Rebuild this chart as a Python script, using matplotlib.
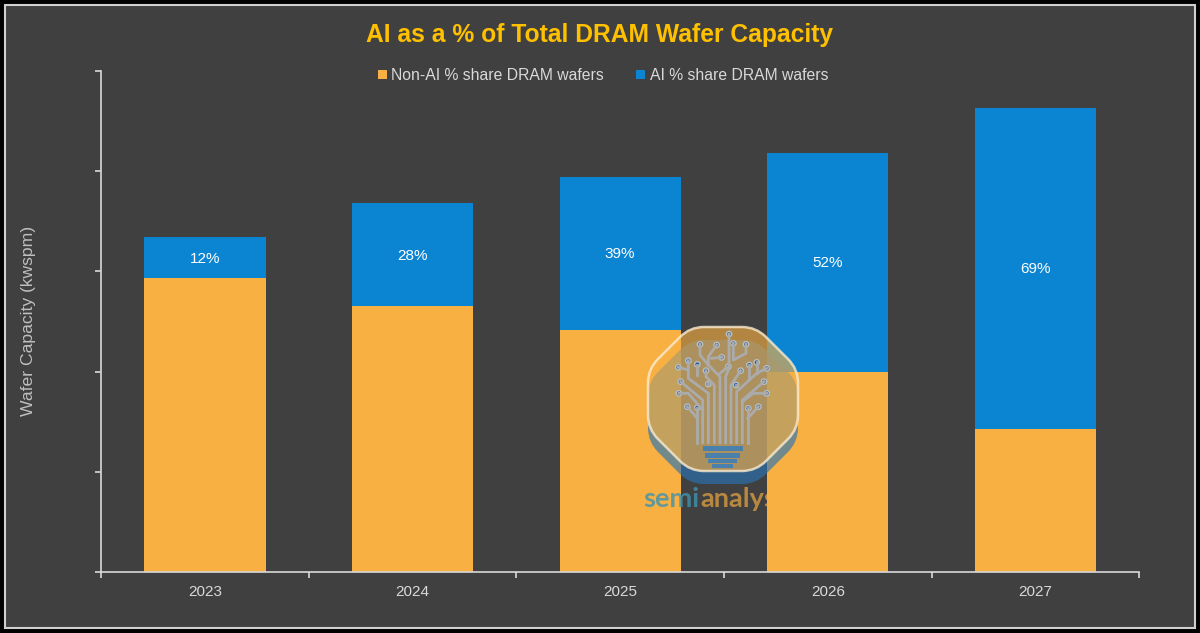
import numpy as np
import matplotlib
matplotlib.use("Agg")
import matplotlib.pyplot as plt
from matplotlib.path import Path
from matplotlib.patches import PathPatch, Rectangle, Circle

plt.rcParams['font.family'] = ['Liberation Sans', 'DejaVu Sans']

# Data (axis itself has no labels)
years = ['2023', '2024', '2025', '2026', '2027']
non_ai = [1465, 1325, 1210, 1000, 715]
ai = [205, 515, 760, 1090, 1600]
ai_labels = ['12%', '28%', '39%', '52%', '69%']

BG = '#404040'
ORANGE = '#F9B043'
BLUE = '#0B84D1'
LIGHT = '#D9D9D9'

fig = plt.figure(figsize=(12, 6.33), dpi=100, facecolor='black')

# outer frame, in pixels
back = fig.add_axes([0, 0, 1, 1], zorder=0)
back.set_xlim(0, 1200)
back.set_ylim(633, 0)
back.axis('off')
back.add_patch(Rectangle((5, 5), 1190, 623, facecolor=BG, edgecolor='#D0D0D0', lw=1.5))

# Main chart
ax = fig.add_axes([101.2 / 1200, 1 - 572 / 633, 1038 / 1200, 501 / 633], zorder=1)
ax.patch.set_alpha(0)
x = np.arange(len(years))
ax.bar(x, non_ai, width=0.583, color=ORANGE, label='Non-AI % share DRAM wafers')
ax.bar(x, ai, width=0.583, bottom=non_ai, color=BLUE, label='AI % share DRAM wafers')
for i in range(len(years)):
    ax.annotate(ai_labels[i], (x[i], non_ai[i] + ai[i] / 2), xytext=(0, -1), textcoords='offset pixels',
                color='white', fontsize=11, ha='center', va='center')

ax.set_xlim(-0.5, 4.5)
ax.set_ylim(0, 2500)
ax.set_xticks(np.arange(-0.5, 5))
ax.set_xticklabels([])
ax.set_xticks(x, minor=True)
ax.set_xticklabels(years, minor=True, color=LIGHT, fontsize=11)
ax.tick_params(axis='x', which='minor', length=0, pad=9.5)
ax.tick_params(axis='x', which='major', length=4, width=1.2, color=LIGHT)
ax.set_yticks(np.arange(0, 2501, 500))
ax.set_yticklabels([])
ax.tick_params(axis='y', length=4, width=1.2, color=LIGHT)
for s in ['top', 'right']:
    ax.spines[s].set_visible(False)
for s in ['left', 'bottom']:
    ax.spines[s].set_color(LIGHT)
    ax.spines[s].set_linewidth(1.2)

ax.legend(loc='upper center', bbox_to_anchor=(0.4835, 1.018), ncol=2, frameon=False, fontsize=11.3,
          labelcolor=LIGHT, handlelength=0.55, handleheight=0.55, handletextpad=0.3,
          columnspacing=2.05, borderaxespad=0)

fig.text(600 / 1200, 1 - 35 / 633, 'AI as a % of Total DRAM Wafer Capacity', color='#FFC000',
         fontsize=17.7, fontweight='bold', ha='center', va='center')
fig.text(29 / 1200, 1 - 321 / 633, 'Wafer Capacity (kwspm)', color='#BFBFBF', fontsize=12.6,
         rotation=90, ha='center', va='center')

# Watermark drawn on top, coords are pixels of the image
top = fig.add_axes([0, 0, 1, 1], zorder=2)
top.set_xlim(0, 1200)
top.set_ylim(633, 0)
top.axis('off')


def rounded(points, r):
    verts, codes = [], []
    n = len(points)
    for i in range(n):
        p = np.array(points[i], float)
        a = np.array(points[i - 1], float)
        b = np.array(points[(i + 1) % n], float)
        p1 = p + (a - p) / np.linalg.norm(a - p) * r
        p2 = p + (b - p) / np.linalg.norm(b - p) * r
        verts += [p1, p, p2]
        codes += [Path.MOVETO if i == 0 else Path.LINETO, Path.CURVE3, Path.CURVE3]
    verts.append(verts[0])
    codes.append(Path.CLOSEPOLY)
    return Path(verts, codes)


octagon = [(690, 327), (756, 327), (798, 369), (798, 429), (756, 471), (690, 471), (648, 429), (648, 369)]
shadow = [(p[0], p[1] + 13) for p in octagon]
top.add_patch(PathPatch(rounded(shadow, 14), facecolor='#2A74B4', edgecolor='none', alpha=0.65))
top.add_patch(PathPatch(rounded(octagon, 14), facecolor='#F9B043', edgecolor='none', alpha=0.62))
top.add_patch(PathPatch(rounded(octagon, 14), facecolor='none', edgecolor='#FBEBD0', lw=1.8, alpha=0.8))

# tree traces, written in 3x crop coords then scaled down
traces = [
    [(300, 398), (300, 200), (290, 190), (265, 165), (240, 135), (240, 103)],
    [(283, 398), (283, 225), (258, 200), (258, 182)],
    [(265, 398), (265, 250), (205, 205), (205, 152)],
    [(248, 398), (248, 270), (182, 215)],
    [(232, 398), (232, 295)],
    [(232, 325), (202, 290)],
    [(248, 300), (205, 250), (177, 250)],
    [(317, 398), (317, 200), (327, 175), (327, 72)],
    [(333, 398), (333, 225), (362, 182)],
    [(350, 398), (350, 245), (410, 190), (440, 175)],
    [(367, 398), (367, 270), (432, 215)],
    [(383, 398), (383, 295)],
    [(383, 325), (415, 290)],
    [(367, 275), (400, 250), (440, 250)],
    [(265, 165), (265, 140), (290, 105)],
    [(275, 145), (305, 142)],
    [(300, 190), (325, 170)],
    [(340, 100), (340, 150), (378, 130), (378, 103)],
    [(388, 165), (388, 205)],
    [(410, 157), (410, 190)],
    [(232, 165), (232, 195)],
    [(205, 180), (175, 172)],
    [(350, 225), (348, 225)],
    [(265, 220), (265, 222)],
]
nodes = [(327, 72), (240, 103), (290, 105), (340, 100), (378, 103), (305, 142), (205, 152), (232, 163),
         (258, 182), (325, 170), (362, 182), (388, 165), (410, 157), (440, 175), (175, 172), (182, 215),
         (265, 222), (348, 225), (432, 215), (177, 250), (440, 250), (202, 290), (232, 293), (385, 295),
         (415, 290)]


def crop(px, py):
    return 620 + px / 3, 310 + py / 3


for tr in traces:
    pts = [crop(*p) for p in tr]
    top.plot([p[0] for p in pts], [p[1] for p in pts], color='#ABABAB', lw=2, solid_joinstyle='round')
for n in nodes:
    top.add_patch(Circle(crop(*n), 2.7, facecolor='#23639C', edgecolor='#BDBDBD', lw=1))

# bulb base
for (x0, x1, y0, y1) in [(248, 368, 408, 423), (255, 360, 430, 443), (265, 350, 448, 460), (275, 340, 463, 473)]:
    cx, cy = crop(x0, y0)
    top.add_patch(Rectangle((cx, cy), (x1 - x0) / 3, (y1 - y0) / 3, facecolor='#3F7FB5', edgecolor='none', alpha=0.9))

top.text(643, 507, 'semi', family='Lato', fontweight='bold', fontsize=19.5, color='#3F93AE', alpha=0.8, va='baseline')
top.text(700, 507, 'analysis', family='Lato', fontweight='bold', fontsize=19.5, color='#F9B043', alpha=0.65, va='baseline')

fig.savefig('out.png', dpi=100, facecolor='black')
